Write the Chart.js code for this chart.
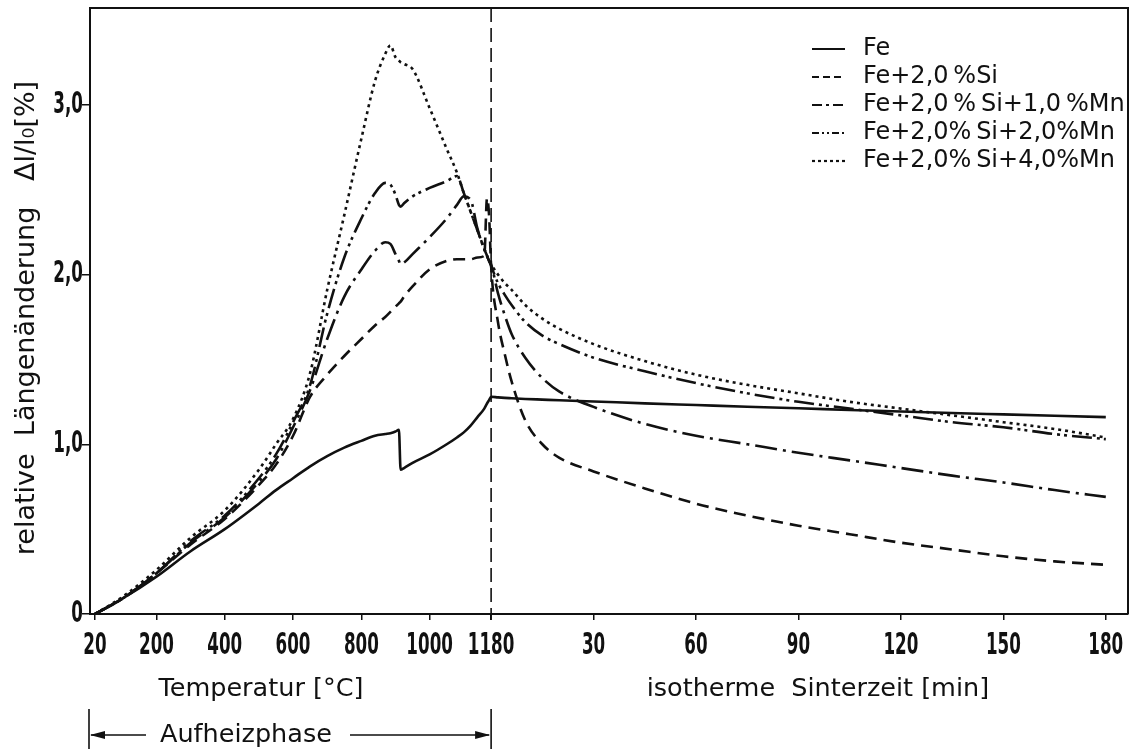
<!DOCTYPE html>
<html>
<head>
<meta charset="utf-8">
<script src="https://cdn.jsdelivr.net/npm/chart.js@4.4.1/dist/chart.umd.min.js"></script>
<style>
html, body { margin: 0; padding: 0; background: #fff; }
</style>
</head>
<body>
<canvas id="dilatChart" width="1143" height="749"></canvas>
<script>
// heating phase, temperature in °C
const heatT = [20, 100, 200, 300, 400, 500, 550, 600, 650, 700, 750, 800, 840, 870, 885, 900, 910, 915, 925, 950, 1000, 1050, 1080, 1100, 1120, 1140, 1160, 1168, 1174, 1180];
const feHeat    = [0, 0.09, 0.22, 0.37, 0.50, 0.65, 0.73, 0.80, 0.87, 0.93, 0.98, 1.02, 1.05, 1.06, 1.065, 1.075, 1.085, 0.85, 0.86, 0.89, 0.94, 1.00, 1.04, 1.07, 1.11, 1.16, 1.21, 1.24, 1.26, 1.28];
const siHeat    = [0, 0.09, 0.24, 0.41, 0.56, 0.76, 0.88, 1.05, 1.28, 1.41, 1.52, 1.62, 1.70, 1.75, 1.78, 1.81, 1.83, 1.84, 1.87, 1.93, 2.03, 2.08, 2.09, 2.09, 2.09, 2.10, 2.11, 2.45, 2.35, 2.05];
const mn1Heat   = [0, 0.09, 0.24, 0.42, 0.57, 0.78, 0.91, 1.10, 1.32, 1.62, 1.87, 2.03, 2.14, 2.19, 2.18, 2.12, 2.08, 2.06, 2.07, 2.12, 2.22, 2.33, 2.41, 2.46, 2.44, 2.27, 2.15, 2.11, 2.08, 2.06];
const mn2Heat   = [0, 0.09, 0.24, 0.43, 0.58, 0.80, 0.94, 1.13, 1.35, 1.77, 2.10, 2.33, 2.48, 2.54, 2.53, 2.47, 2.41, 2.40, 2.42, 2.46, 2.51, 2.55, 2.58, 2.48, 2.37, 2.26, 2.15, 2.11, 2.08, 2.05];
const mn4Heat   = [0, 0.10, 0.26, 0.45, 0.61, 0.85, 1.00, 1.15, 1.42, 1.91, 2.35, 2.80, 3.14, 3.30, 3.35, 3.28, 3.26, 3.25, 3.24, 3.21, 2.98, 2.74, 2.60, 2.48, 2.37, 2.26, 2.15, 2.11, 2.08, 2.06];

// isothermal sintering at 1180 °C, time in min
const sinterT = [2, 4, 6, 10, 15, 20, 30, 45, 60, 75, 90, 105, 120, 135, 150, 165, 180];
const feSinter  = [1.276, 1.273, 1.271, 1.267, 1.263, 1.259, 1.252, 1.241, 1.231, 1.221, 1.212, 1.202, 1.193, 1.184, 1.176, 1.168, 1.16];
const siSinter  = [1.72, 1.53, 1.37, 1.14, 1.00, 0.92, 0.84, 0.74, 0.65, 0.58, 0.52, 0.47, 0.42, 0.38, 0.34, 0.31, 0.29];
const mn1Sinter = [1.89, 1.76, 1.65, 1.51, 1.39, 1.31, 1.22, 1.12, 1.05, 1.00, 0.95, 0.905, 0.86, 0.815, 0.775, 0.73, 0.69];
const mn2Sinter = [1.95, 1.88, 1.82, 1.72, 1.64, 1.59, 1.51, 1.43, 1.36, 1.30, 1.25, 1.21, 1.17, 1.13, 1.10, 1.06, 1.03];
const mn4Sinter = [2.00, 1.95, 1.91, 1.82, 1.74, 1.68, 1.59, 1.49, 1.41, 1.35, 1.30, 1.25, 1.21, 1.17, 1.13, 1.09, 1.04];

const seriesNames = ['Fe', 'Fe+2,0\u2009%Si', 'Fe+2,0\u2009%\u2009Si+1,0\u2009%Mn', 'Fe+2,0%\u2009Si+2,0%Mn', 'Fe+2,0%\u2009Si+4,0%Mn'];

// tick labels of the combined x axis
const tempTicks = [20, 200, 400, 600, 800, 1000, 1180];
const timeTicks = [30, 60, 90, 120, 150, 180];
const yTicks = [0, 1, 2, 3];
const yTickLabels = ['0', '1,0', '2,0', '3,0'];

// on the x axis 1 min of sintering takes the width of 10 °C
const T_END = 1180;
const MIN_W = 10;
const timeToX = m => T_END + m * MIN_W;

function toPoints(heat, sinter) {
    const pts = heatT.map((t, i) => ({ x: t, y: heat[i] }));
    sinterT.forEach((m, i) => pts.push({ x: timeToX(m), y: sinter[i] }));
    return pts;
}

const xTickValues = tempTicks.concat(timeTicks.map(timeToX));
const xTickText = tempTicks.map(String).concat(timeTicks.map(String));

const tickFont = 'bold 30px "DejaVu Sans Condensed", "DejaVu Sans", sans-serif';
const textFont = '25.5px "DejaVu Sans", sans-serif';
const yTitleFont = '27px "DejaVu Sans", sans-serif';
const legendFont = '24px "DejaVu Sans", sans-serif';

const styles = [
    { dash: [], legendDash: [] },
    { dash: [12, 7], legendDash: [7, 4] },
    { dash: [22, 6, 3, 6], legendDash: [10, 4, 3, 4] },
    { dash: [20, 5, 3, 4, 3, 5], legendDash: [7, 3, 2, 3, 2, 3] },
    { dash: [3, 4], legendDash: [3, 3] }
];

const allHeat = [feHeat, siHeat, mn1Heat, mn2Heat, mn4Heat];
const allSinter = [feSinter, siSinter, mn1Sinter, mn2Sinter, mn4Sinter];

const datasets = seriesNames.map((name, i) => ({
    label: name,
    data: toPoints(allHeat[i], allSinter[i]),
    borderColor: '#111',
    borderWidth: 2.6,
    borderDash: styles[i].dash,
    legendDash: styles[i].legendDash,
    pointRadius: 0,
    fill: false,
    cubicInterpolationMode: 'monotone'
}));

// condensed tick digits like the original lettering
function narrowText(ctx, txt, x, y, align) {
    ctx.save();
    ctx.translate(x, y);
    ctx.scale(0.62, 1);
    ctx.textAlign = align;
    ctx.fillText(txt, 0, 0);
    ctx.restore();
}

const decor = {
    id: 'decor',
    afterDraw(chart) {
        const ctx = chart.ctx;
        const a = chart.chartArea;
        const xs = chart.scales.x;
        const ys = chart.scales.y;
        ctx.save();
        ctx.strokeStyle = '#111';
        ctx.fillStyle = '#111';

        // top and right frame
        ctx.lineWidth = 2;
        ctx.beginPath();
        ctx.moveTo(a.left, a.top);
        ctx.lineTo(a.right, a.top);
        ctx.lineTo(a.right, a.bottom);
        ctx.stroke();

        // tick labels
        ctx.font = tickFont;
        ctx.textBaseline = 'middle';
        xs.ticks.forEach((t, i) => narrowText(ctx, xTickText[i], xs.getPixelForValue(t.value), 646, 'center'));
        ys.ticks.forEach((t, i) => narrowText(ctx, yTickLabels[i], 83, ys.getPixelForValue(t.value), 'right'));

        // end of heating phase
        const xe = xs.getPixelForValue(T_END);
        ctx.lineWidth = 1.6;
        ctx.setLineDash([14, 6]);
        ctx.beginPath();
        ctx.moveTo(xe, a.top);
        ctx.lineTo(xe, a.bottom + 6);
        ctx.stroke();
        ctx.setLineDash([]);

        // axis titles
        ctx.font = textFont;
        ctx.textAlign = 'center';
        ctx.fillText('Temperatur [°C]', xs.getPixelForValue(506), 689);
        ctx.fillText('isotherme  Sinterzeit [min]', xs.getPixelForValue(2137), 689);

        ctx.save();
        ctx.font = yTitleFont;
        ctx.translate(27, 318);
        ctx.rotate(-Math.PI / 2);
        ctx.fillText('relative  Längenänderung   Δl/l₀[%]', 0, 0);
        ctx.restore();

        // Aufheizphase bracket
        const xl = a.left - 1;
        ctx.lineWidth = 1.6;
        ctx.beginPath();
        ctx.moveTo(xl, 709); ctx.lineTo(xl, 749);
        ctx.moveTo(xe, 709); ctx.lineTo(xe, 749);
        ctx.moveTo(xl + 2, 735); ctx.lineTo(146, 735);
        ctx.moveTo(350, 735); ctx.lineTo(xe - 2, 735);
        ctx.stroke();
        ctx.beginPath();
        ctx.moveTo(xl + 1, 735); ctx.lineTo(xl + 16, 731); ctx.lineTo(xl + 16, 739); ctx.closePath();
        ctx.moveTo(xe - 1, 735); ctx.lineTo(xe - 16, 731); ctx.lineTo(xe - 16, 739); ctx.closePath();
        ctx.fill();
        ctx.textAlign = 'left';
        ctx.fillText('Aufheizphase', 160, 735);

        // legend
        ctx.font = legendFont;
        chart.data.datasets.forEach((ds, i) => {
            const y = 49 + i * 28;
            ctx.lineWidth = 2.2;
            ctx.setLineDash(ds.legendDash);
            ctx.beginPath();
            ctx.moveTo(812, y);
            ctx.lineTo(845, y);
            ctx.stroke();
            ctx.setLineDash([]);
            ctx.fillText(ds.label, 863, y);
        });
        ctx.restore();
    }
};

const noPad = s => { s.paddingTop = 0; s.paddingBottom = 0; s.paddingLeft = 0; s.paddingRight = 0; };

new Chart(document.getElementById('dilatChart'), {
    type: 'line',
    data: { datasets: datasets },
    options: {
        responsive: false,
        animation: false,
        layout: { padding: { top: 8, right: 15, left: 0, bottom: 0 } },
        plugins: {
            legend: { display: false },
            tooltip: { enabled: false }
        },
        scales: {
            x: {
                type: 'linear',
                min: 5.4,
                max: 3045,
                afterBuildTicks: s => { s.ticks = xTickValues.map(v => ({ value: v })); },
                afterFit: s => { s.height = 135; noPad(s); },
                ticks: { display: false, autoSkip: false },
                grid: { drawOnChartArea: false, tickLength: 6, color: '#111', lineWidth: 1.5 },
                border: { color: '#111', width: 2 }
            },
            y: {
                min: 0,
                max: 3.57,
                afterBuildTicks: s => { s.ticks = yTicks.map(v => ({ value: v })); },
                afterFit: s => { s.width = 90; noPad(s); },
                ticks: { display: false },
                grid: { drawOnChartArea: false, tickLength: 8, color: '#111', lineWidth: 1.5 },
                border: { color: '#111', width: 2 }
            }
        }
    },
    plugins: [decor]
});
</script>
</body>
</html>
